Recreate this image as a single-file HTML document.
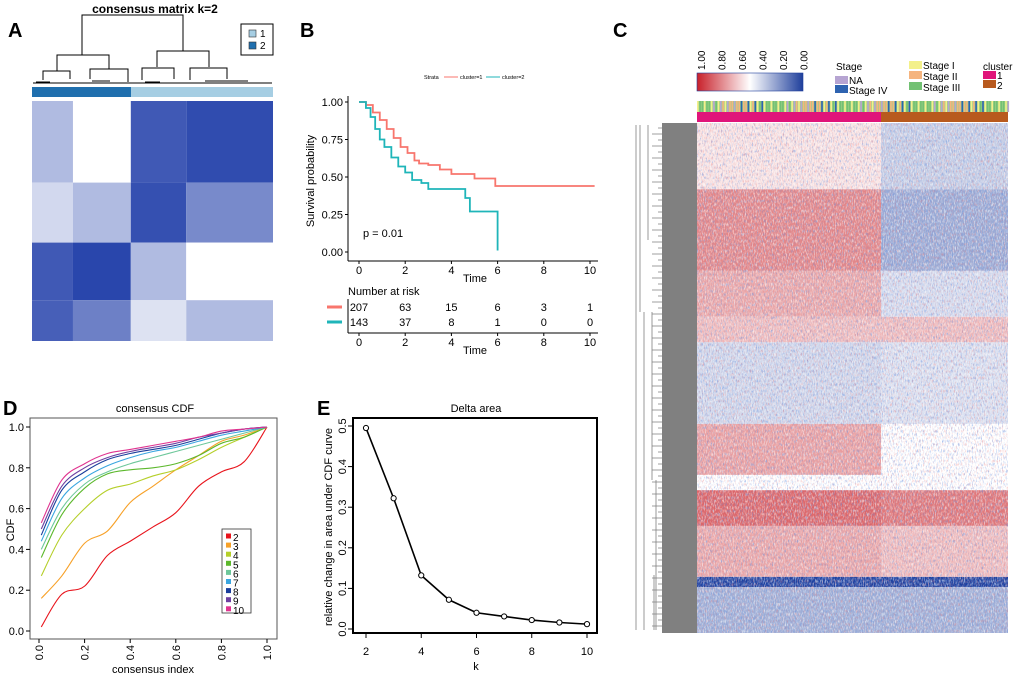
<!DOCTYPE html>
<html><head><meta charset="utf-8">
<style>
html,body{margin:0;padding:0;background:#fff;}
svg{display:block;font-family:"Liberation Sans",Arial,sans-serif;}
</style></head>
<body>
<svg id="fig" width="1020" height="680" viewBox="0 0 1020 680" xmlns="http://www.w3.org/2000/svg">
<defs>
<filter id="noise" x="0" y="0" width="100%" height="100%">
<feTurbulence type="fractalNoise" baseFrequency="0.9 0.3" numOctaves="2" seed="4" result="t"/>
<feColorMatrix in="t" type="matrix" values="0 0 0 0 1  0 0 0 0 1  0 0 0 0 1  0 0 0 3 -1.3"/>
</filter>
<filter id="noise2" x="0" y="0" width="100%" height="100%">
<feTurbulence type="fractalNoise" baseFrequency="0.8 0.3" numOctaves="2" seed="11" result="t"/>
<feColorMatrix in="t" type="matrix" values="0 0 0 0 0.15  0 0 0 0 0.3  0 0 0 0 0.75  0 0 0 3 -1.55"/>
</filter>
<filter id="noise3" x="0" y="0" width="100%" height="100%">
<feTurbulence type="fractalNoise" baseFrequency="0.85 0.3" numOctaves="2" seed="27" result="t"/>
<feColorMatrix in="t" type="matrix" values="0 0 0 0 0.85  0 0 0 0 0.2  0 0 0 0 0.2  0 0 0 3 -1.6"/>
</filter>
<linearGradient id="keygrad" x1="0" x2="1" y1="0" y2="0">
<stop offset="0" stop-color="#c8202a"/><stop offset="0.5" stop-color="#ffffff"/><stop offset="1" stop-color="#1f3f9c"/>
</linearGradient>
</defs>

<text x="8" y="37" font-size="20" font-weight="bold">A</text>
<text x="300" y="37" font-size="20" font-weight="bold">B</text>
<text x="613" y="37" font-size="20" font-weight="bold">C</text>
<text x="3" y="415" font-size="20" font-weight="bold">D</text>
<text x="317" y="415" font-size="20" font-weight="bold">E</text>

<!-- Panel A -->
<g id="pa">
<text x="155" y="13" font-size="12" font-weight="bold" text-anchor="middle">consensus matrix k=2</text>
<g stroke="#000" stroke-width="1" fill="none">
<path d="M82 55 V15 H183 V51"/>
<path d="M57 71 V55 H109 V69"/>
<path d="M157 67 V51 H209 V67"/>
<path d="M43 80 V71 H70 V79 M90 79 V69 H128 V82"/>
<path d="M142 80 V68 H174 V79 M190 80 V68 H227 V79"/>
<path d="M33 83 H272 M36 82 H50 M92 81 H110 M145 82 H160 M205 81 H248"/>
</g>
<rect x="32" y="87" width="99" height="10" fill="#1f6fae"/>
<rect x="131" y="87" width="142" height="10" fill="#a6cee3"/>
<g id="aHeat"></g>
<g>
<rect x="241" y="24" width="32" height="31" fill="#fff" stroke="#000" stroke-width="1"/>
<rect x="249" y="30" width="7" height="7" fill="#a6cee3" stroke="#333" stroke-width="0.6"/>
<rect x="249" y="42" width="7" height="7" fill="#1f6fae" stroke="#333" stroke-width="0.6"/>
<text x="260" y="37" font-size="10">1</text>
<text x="260" y="49" font-size="10">2</text>
</g>
</g>

<!-- Panel B -->
<g id="pb">
<g font-size="5.5">
<text x="424" y="79">Strata</text>
<line x1="444" y1="77" x2="458" y2="77" stroke="#f8766d" stroke-width="1"/>
<text x="460" y="79">cluster=1</text>
<line x1="486" y1="77" x2="500" y2="77" stroke="#1fb5b9" stroke-width="1"/>
<text x="502" y="79">cluster=2</text>
</g>
<g id="bAxes"></g>
<g id="bCurves"></g>
<text x="363" y="237" font-size="11">p = 0.01</text>
<text transform="translate(314,181) rotate(-90)" font-size="11" text-anchor="middle">Survival probability</text>
<text x="475" y="282" font-size="11" text-anchor="middle">Time</text>
<text x="348" y="295" font-size="11">Number at risk</text>
<g id="bRisk"></g>
<text x="475" y="354" font-size="11" text-anchor="middle">Time</text>
</g>

<!-- Panel C -->
<g id="pc">
<g>
<rect x="697" y="73" width="106" height="18" fill="url(#keygrad)" stroke="#1f3f9c" stroke-width="0.6"/>
<g font-size="10" id="keyLabels"></g>
</g>
<g font-size="10">
<text x="836" y="70">Stage</text>
<rect x="835" y="76" width="13" height="8" fill="#b6a4d2"/><text x="849" y="84">NA</text>
<rect x="835" y="85" width="13" height="8" fill="#2e63b0"/><text x="849" y="94">Stage IV</text>
<rect x="909" y="61" width="13" height="8" fill="#f3f08a"/><text x="923" y="69">Stage I</text>
<rect x="909" y="71" width="13" height="8" fill="#f5b47e"/><text x="923" y="80">Stage II</text>
<rect x="909" y="82" width="13" height="8" fill="#72c173"/><text x="923" y="91">Stage III</text>
<text x="983" y="70">cluster</text>
<rect x="983" y="71" width="13" height="8" fill="#e0157a"/><text x="997" y="79">1</text>
<rect x="983" y="80" width="13" height="8" fill="#b85a1e"/><text x="997" y="89">2</text>
</g>
<g id="stageBar"></g>
<rect x="697" y="112" width="184" height="10" fill="#e0157a"/>
<rect x="881" y="112" width="127" height="10" fill="#b85a1e"/>
<g id="cHeat"></g>
<g id="cDend"></g>
</g>

<!-- Panel D -->
<g id="pd">
<text x="155" y="412" font-size="11" text-anchor="middle">consensus CDF</text>
<rect x="30" y="418" width="247" height="221" fill="none" stroke="#555" stroke-width="1"/>
<g id="dAxes"></g>
<g id="dCurves"></g>
<g id="dLegend"></g>
<text x="153" y="673" font-size="11" text-anchor="middle">consensus index</text>
<text transform="translate(14,530) rotate(-90)" font-size="11" text-anchor="middle">CDF</text>
</g>

<!-- Panel E -->
<g id="pe">
<text x="476" y="412" font-size="11" text-anchor="middle">Delta area</text>
<rect x="353" y="418" width="244" height="215" fill="none" stroke="#000" stroke-width="2"/>
<g id="eAxes"></g>
<g id="eLine"></g>
<text x="476" y="670" font-size="11" text-anchor="middle">k</text>
<text transform="translate(332,527) rotate(-90)" font-size="11" text-anchor="middle">relative change in area under CDF curve</text>
</g>
</svg>

<script>
const NS="http://www.w3.org/2000/svg";
function mk(tag,attrs,parent){const e=document.createElementNS(NS,tag);for(const k in attrs)e.setAttribute(k,attrs[k]);parent.appendChild(e);return e;}

// ---- Panel A data ----
const aRowEdges=[0,0.34,0.59,0.83,1.0];
const aColEdges=[0,0.17,0.41,0.64,1.0];
const aValues=[[0.35,0.0,0.85,0.92],[0.2,0.35,0.9,0.6],[0.85,0.95,0.35,0.0],[0.82,0.65,0.15,0.35]];
// ---- Panel B data ----
const km1T=[0,0.3,0.6,0.9,1.2,1.5,1.8,2.1,2.4,2.6,3.0,3.5,4.0,5.0,5.9,10.2];
const km1S=[1,0.98,0.93,0.88,0.82,0.76,0.70,0.66,0.61,0.59,0.58,0.55,0.52,0.49,0.44,0.44];
const km2T=[0,0.3,0.5,0.7,0.9,1.1,1.4,1.7,2.0,2.3,2.7,3.0,4.6,4.8,6.0];
const km2S=[1,0.96,0.90,0.82,0.75,0.70,0.63,0.57,0.53,0.48,0.46,0.42,0.36,0.27,0.01];
const riskTimes=[0,2,4,6,8,10];
const risk1=[207,63,15,6,3,1];
const risk2=[143,37,8,1,0,0];
const survTicks=["0.00","0.25","0.50","0.75","1.00"];
// ---- Panel C data ----
const cBandEdges=[0,0.13,0.29,0.38,0.43,0.59,0.69,0.72,0.79,0.89,0.91,1.0];
const cBandC1=[0.55,0.72,0.66,0.62,0.42,0.67,0.5,0.78,0.66,0.03,0.34];
const cBandC2=[0.40,0.33,0.43,0.62,0.44,0.5,0.5,0.75,0.62,0.03,0.34];
const keyLabels=["1.00","0.80","0.60","0.40","0.20","0.00"];
// ---- Panel D data ----
const cdfX=[0.01,0.1,0.2,0.3,0.4,0.5,0.6,0.7,0.8,0.9,1.0];
const cdf2=[0.02,0.18,0.22,0.37,0.44,0.51,0.58,0.71,0.78,0.83,1.0];
const cdf3=[0.16,0.27,0.43,0.49,0.63,0.71,0.79,0.86,0.93,0.96,1.0];
const cdf4=[0.27,0.47,0.60,0.69,0.72,0.76,0.79,0.84,0.90,0.95,1.0];
const cdf5=[0.36,0.57,0.70,0.77,0.79,0.80,0.82,0.86,0.92,0.95,1.0];
const cdf6=[0.40,0.60,0.72,0.78,0.82,0.85,0.88,0.91,0.94,0.97,1.0];
const cdf7=[0.44,0.65,0.75,0.81,0.85,0.88,0.90,0.93,0.96,0.98,1.0];
const cdf8=[0.47,0.69,0.78,0.84,0.87,0.89,0.91,0.94,0.97,0.99,1.0];
const cdf9=[0.50,0.71,0.80,0.85,0.88,0.90,0.92,0.95,0.97,0.99,1.0];
const cdf10=[0.53,0.74,0.82,0.87,0.89,0.91,0.93,0.95,0.98,0.99,1.0];
const cdfK=["2","3","4","5","6","7","8","9","10"];
const cdfTicks=["0.0","0.2","0.4","0.6","0.8","1.0"];
// ---- Panel E data ----
const deltaK=[2,3,4,5,6,7,8,9,10];
const deltaV=[0.495,0.322,0.132,0.072,0.04,0.031,0.022,0.016,0.012];
const deltaYTicks=["0.0","0.1","0.2","0.3","0.4","0.5"];
const deltaXTicks=[2,4,6,8,10];

// ===== Panel A =====
(function(){
const g=document.getElementById('aHeat');
const X0=32,X1=273,Y0=101,Y1=341;
const sx=v=>X0+v*(X1-X0), sy=v=>Y0+v*(Y1-Y0);
function blue(v){const r=Math.round(255-(255-30)*v),gg=Math.round(255-(255-60)*v),b=Math.round(255-(255-168)*v);return `rgb(${r},${gg},${b})`;}
for(let i=0;i<aValues.length;i++)for(let j=0;j<aValues[i].length;j++){
const r=mk('rect',{x:sx(aColEdges[j]),y:sy(aRowEdges[i]),width:sx(aColEdges[j+1])-sx(aColEdges[j]),height:sy(aRowEdges[i+1])-sy(aRowEdges[i]),fill:blue(aValues[i][j])},g);


}
})();

// ===== Panel B =====
(function(){
const X0=359,X1=590,Y0=252,Y1=102;
const sx=t=>X0+t/10*(X1-X0), sy=s=>Y0+s*(Y1-Y0);
const ax=document.getElementById('bAxes');
mk('line',{x1:348,y1:96,x2:348,y2:261,stroke:'#000','stroke-width':1},ax);
mk('line',{x1:348,y1:261,x2:598,y2:261,stroke:'#000','stroke-width':1},ax);
survTicks.forEach(t=>{const y=sy(parseFloat(t));mk('line',{x1:345,y1:y,x2:348,y2:y,stroke:'#000'},ax);const tx=mk('text',{x:343,y:y+4,'font-size':11,'text-anchor':'end'},ax);tx.textContent=t;});
riskTimes.forEach(t=>{const x=sx(t);mk('line',{x1:x,y1:261,x2:x,y2:264,stroke:'#000'},ax);const tx=mk('text',{x:x,y:274,'font-size':11,'text-anchor':'middle'},ax);tx.textContent=t;});
function step(T,S,color,name){let d=`M${sx(T[0])} ${sy(S[0])}`;for(let i=1;i<T.length;i++){d+=` H${sx(T[i])} V${sy(S[i])}`;}
const p=mk('path',{d:d,fill:'none',stroke:color,'stroke-width':1.8},document.getElementById('bCurves'));

}
step(km1T,km1S,'#f8766d','km-curve-cluster1');
step(km2T,km2S,'#1fb5b9','km-curve-cluster2');
const rk=document.getElementById('bRisk');
mk('line',{x1:348,y1:299,x2:348,y2:333,stroke:'#000'},rk);
mk('line',{x1:348,y1:333,x2:598,y2:333,stroke:'#000'},rk);
mk('line',{x1:327,y1:307,x2:342,y2:307,stroke:'#f8766d','stroke-width':3},rk);
mk('line',{x1:327,y1:322,x2:342,y2:322,stroke:'#1fb5b9','stroke-width':3},rk);
riskTimes.forEach((t,i)=>{const x=sx(t);
let a=mk('text',{x:x,y:311,'font-size':11,'text-anchor':'middle'},rk);a.textContent=risk1[i];
a=mk('text',{x:x,y:326,'font-size':11,'text-anchor':'middle'},rk);a.textContent=risk2[i];
mk('line',{x1:x,y1:333,x2:x,y2:336,stroke:'#000'},rk);
a=mk('text',{x:x,y:346,'font-size':11,'text-anchor':'middle'},rk);a.textContent=t;});
})();

// ===== Panel C =====
(function(){
const X0=697,XS=881,X1=1008,Y0=123,Y1=633;
const sy=v=>Y0+v*(Y1-Y0);
function rb(v){
 if(v>=0.5){const t=Math.min(1,(v-0.5)*2.6);return `rgb(${Math.round(255-(255-205)*t)},${Math.round(255-(255-45)*t)},${Math.round(255-(255-50)*t)})`;}
 const t=Math.min(1,(0.5-v)*2.6);return `rgb(${Math.round(255-(255-30)*t)},${Math.round(255-(255-65)*t)},${Math.round(255-(255-160)*t)})`;}
const g=document.getElementById('cHeat');
for(let i=0;i<cBandC1.length;i++){
const y=sy(cBandEdges[i]),h=sy(cBandEdges[i+1])-y;
let r=mk('rect',{x:X0,y:y,width:XS-X0,height:h,fill:rb(cBandC1[i])},g);


r=mk('rect',{x:XS,y:y,width:X1-XS,height:h,fill:rb(cBandC2[i])},g);


}
mk('rect',{x:X0,y:Y0,width:X1-X0,height:Y1-Y0,fill:'#fff',filter:'url(#noise)',opacity:0.6},g);
mk('rect',{x:X0,y:Y0,width:X1-X0,height:Y1-Y0,fill:'#000',filter:'url(#noise2)',opacity:0.6},g);
mk('rect',{x:X0,y:Y0,width:X1-X0,height:Y1-Y0,fill:'#000',filter:'url(#noise3)',opacity:0.45},g);
const sb=document.getElementById('stageBar');
mk('rect',{x:X0,y:101,width:X1-X0,height:11,fill:'#9fce86'},sb);
const stageCols=['#f3f08a','#f5b47e','#72c173','#2e63b0','#b6a4d2','#72c173','#f5b47e','#f3f08a'];
for(let x=X0,i=0;x<X1;x+=2.3,i++){const c=stageCols[(i*5+(i>>2))%stageCols.length];mk('rect',{x:x,y:101,width:1.6,height:11,fill:c},sb);}
const kl=document.getElementById('keyLabels');
keyLabels.forEach((t,i)=>{const x=701+i*20.5;const tx=mk('text',{transform:`translate(${x+4},70) rotate(-90)`},kl);tx.textContent=t;});
const dg=document.getElementById('cDend');
mk('rect',{x:662,y:Y0,width:35,height:Y1-Y0,fill:'#808080'},dg);
let d='';
const joins=[[636,125,630],[640,125,312],[644,312,630],[648,125,240],[652,312,480],[656,480,630],[654,575,630]];
joins.forEach(j=>{d+=`M${j[0]} ${j[1]} V${j[2]} `;});
for(let y=128;y<632;y+=6){d+=`M${650+((y*7)%12)} ${y} H662 `;}
mk('path',{d:d,fill:'none',stroke:'#808080','stroke-width':0.8},dg);
})();

// ===== Panel D =====
(function(){
const X0=39,X1=267,Y0=631,Y1=427;
const sx=v=>X0+v*(X1-X0), sy=v=>Y0+v*(Y1-Y0);
const ax=document.getElementById('dAxes');
cdfTicks.forEach(t=>{const v=parseFloat(t);const y=sy(v);mk('line',{x1:26,y1:y,x2:30,y2:y,stroke:'#000'},ax);
let tx=mk('text',{x:24,y:y+4,'font-size':11,'text-anchor':'end'},ax);tx.textContent=t;
const x=sx(v);mk('line',{x1:x,y1:639,x2:x,y2:643,stroke:'#000'},ax);
tx=mk('text',{transform:`translate(${x+4},645) rotate(-90)`,'font-size':11,'text-anchor':'end'},ax);tx.textContent=t;});
const series=[cdf2,cdf3,cdf4,cdf5,cdf6,cdf7,cdf8,cdf9,cdf10];
const cols=['#e8141c','#f7a128','#b5cf2a','#5cb82c','#6dc79a','#3aa6e0','#1a3e9c','#6d3fa0','#e0338f'];
function smooth(xs,ys){const P=xs.map((x,i)=>[sx(x),sy(ys[i])]);let d=`M${P[0][0]} ${P[0][1]}`;
for(let i=0;i<P.length-1;i++){const p0=P[Math.max(0,i-1)],p1=P[i],p2=P[i+1],p3=P[Math.min(P.length-1,i+2)];
d+=` C${p1[0]+(p2[0]-p0[0])/6} ${p1[1]+(p2[1]-p0[1])/6} ${p2[0]-(p3[0]-p1[0])/6} ${p2[1]-(p3[1]-p1[1])/6} ${p2[0]} ${p2[1]}`;}return d;}
const g=document.getElementById('dCurves');
series.forEach((s,i)=>{const p=mk('path',{d:smooth(cdfX,s),fill:'none',stroke:cols[i],'stroke-width':1.1},g);

});
const lg=document.getElementById('dLegend');
mk('rect',{x:222,y:529,width:29,height:84,fill:'#fff',stroke:'#333','stroke-width':0.8},lg);
cdfK.forEach((k,i)=>{const y=537+i*9.1;mk('rect',{x:226,y:y-3.5,width:5,height:5,fill:cols[i]},lg);
const tx=mk('text',{x:233,y:y+4,'font-size':10},lg);tx.textContent=k;});
})();

// ===== Panel E =====
(function(){
const X0=366,X1=587,Y0=629,Y1=426;
const sx=k=>X0+(k-2)/8*(X1-X0), sy=v=>Y0+v/0.5*(Y1-Y0);
const ax=document.getElementById('eAxes');
deltaYTicks.forEach(t=>{const y=sy(parseFloat(t));mk('line',{x1:348,y1:y,x2:353,y2:y,stroke:'#000'},ax);
const tx=mk('text',{transform:`translate(${346},${y}) rotate(-90)`,'font-size':11,'text-anchor':'middle'},ax);tx.textContent=t;});
deltaXTicks.forEach(k=>{const x=sx(k);mk('line',{x1:x,y1:633,x2:x,y2:638,stroke:'#000'},ax);
const tx=mk('text',{x:x,y:655,'font-size':11,'text-anchor':'middle'},ax);tx.textContent=k;});
const g=document.getElementById('eLine');
const pts=deltaK.map((k,i)=>`${sx(k)},${sy(deltaV[i])}`).join(' ');
mk('polyline',{points:pts,fill:'none',stroke:'#000','stroke-width':1.6},g);
deltaK.forEach((k,i)=>{const c=mk('circle',{cx:sx(k),cy:sy(deltaV[i]),r:2.6,fill:'#fff',stroke:'#000','stroke-width':1},g);

});
})();
</script>
</body></html>
